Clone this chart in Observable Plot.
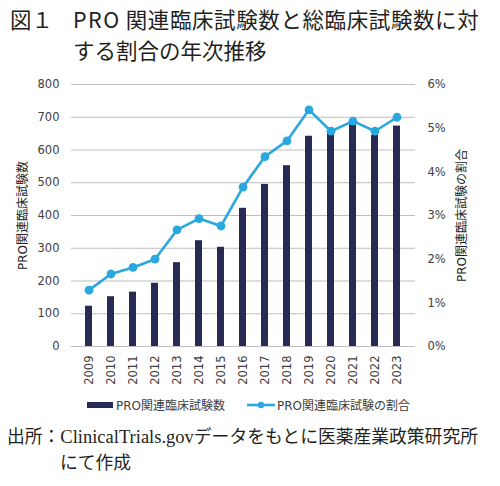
<!DOCTYPE html>
<html><head><meta charset="utf-8">
<script src="https://cdn.jsdelivr.net/npm/d3@7"></script>
<script src="https://cdn.jsdelivr.net/npm/@observablehq/plot@0.6"></script>
<style>
body{margin:0;background:#fff;width:500px;height:486px;position:relative;overflow:hidden;font-family:"Noto Sans CJK JP",sans-serif;}
#title{position:absolute;left:10px;top:3px;font-size:21.5px;line-height:31px;color:#231f20;white-space:nowrap;}
#title .n{position:absolute;left:0;top:0;}
#title .t{margin-left:63px;}
#title .l1{letter-spacing:0.6px;}
#title .pro{letter-spacing:1.5px;margin-right:5px;}
#chart{position:absolute;left:0;top:70px;}
#legend{position:absolute;top:396px;left:0;width:500px;font-family:"DejaVu Sans","Noto Sans CJK JP",sans-serif;font-size:12px;color:#404040;}
#caption{position:absolute;left:7px;top:424px;font-family:"Liberation Serif","Noto Sans CJK JP",serif;font-size:17.8px;line-height:26px;color:#231f20;white-space:nowrap;}
#caption .lat{font-size:18.5px;}
</style></head>
<body>
<div id="title"><span class="n">図１</span><div class="t"><span class="l1"><span class="pro">PRO</span>関連臨床試験数と総臨床試験数に対</span><br>する割合の年次推移</div></div>
<div id="chart"></div>
<div id="legend"></div>
<div id="caption">出所：<span class="lat">ClinicalTrials.gov</span>データをもとに医薬産業政策研究所<br><span style="margin-left:53px">にて作成</span></div>
<script>
const years = ["2009","2010","2011","2012","2013","2014","2015","2016","2017","2018","2019","2020","2021","2022","2023"];
const counts = [123,152,166,193,256,323,303,422,495,552,642,655,677,645,673];
const shares = [1.29,1.66,1.81,2.0,2.67,2.93,2.76,3.65,4.35,4.71,5.42,4.93,5.16,4.93,5.25];
const leftTicks = [0,100,200,300,400,500,600,700,800];
const rightTicks = [0,1,2,3,4,5,6];
const leftTitle = "PRO関連臨床試験数";
const rightTitle = "PRO関連臨床試験の割合";
const barName = "PRO関連臨床試験数";
const lineName = "PRO関連臨床試験の割合";
const barColor = "#272a53";
const lineColor = "#29a8df";

const yMax = 800, pMax = 6;
const toY = p => p * yMax / pMax;
const data = years.map((y, i) => ({year: y, count: counts[i], share: shares[i]}));

const chart = Plot.plot({
  width: 500,
  height: 320,
  marginTop: 14,
  marginBottom: 44,
  marginLeft: 71,
  marginRight: 85,
  style: {fontFamily: '"DejaVu Sans","Noto Sans CJK JP",sans-serif', fontSize: "11.5px", color: "#404040", background: "#fff"},
  x: {domain: years, paddingInner: 0.66, paddingOuter: 0.33},
  y: {domain: [0, yMax]},
  marks: [
    Plot.gridY(leftTicks, {stroke: "#bdbdbd", strokeOpacity: 1, strokeWidth: 1}),
    Plot.axisY(leftTicks, {anchor: "left", tickSize: 0, tickPadding: 12, label: null}),
    Plot.axisY(rightTicks.map(toY), {anchor: "right", tickSize: 0, tickPadding: 12, label: null, tickFormat: v => Math.round(v * pMax / yMax) + "%"}),
    Plot.axisX({tickRotate: -90, tickSize: 0, tickPadding: 9, label: null, fontSize: "11.5px"}),
    Plot.barY(data, {x: "year", y: "count", fill: barColor}),
    Plot.line(data, {x: "year", y: d => toY(d.share), stroke: lineColor, strokeWidth: 2.6}),
    Plot.dot(data, {x: "year", y: d => toY(d.share), r: 4.4, fill: lineColor}),
    Plot.text([leftTitle], {frameAnchor: "left", textAnchor: "middle", rotate: -90, dx: -48, fill: "#231f20", fontSize: 12}),
    Plot.text([rightTitle], {frameAnchor: "right", textAnchor: "middle", rotate: -90, dx: 47, fill: "#231f20", fontSize: 12})
  ]
});
document.getElementById("chart").appendChild(chart);

const leg = d3.select("#legend");
const item1 = leg.append("div").style("position","absolute").style("left","87px").style("top","0px").style("display","flex").style("align-items","center");
item1.append("div").style("width","26px").style("height","6px").style("background",barColor).style("margin-right","3px");
item1.append("span").text(barName);
const item2 = leg.append("div").style("position","absolute").style("left","247px").style("top","0px").style("display","flex").style("align-items","center");
const sw = item2.append("svg").attr("width",28).attr("height",10).style("margin-right","2px");
sw.append("line").attr("x1",0).attr("x2",28).attr("y1",5).attr("y2",5).attr("stroke",lineColor).attr("stroke-width",2.6);
sw.append("circle").attr("cx",14).attr("cy",5).attr("r",3.2).attr("fill",lineColor);
item2.append("span").text(lineName);
</script>
</body></html>
